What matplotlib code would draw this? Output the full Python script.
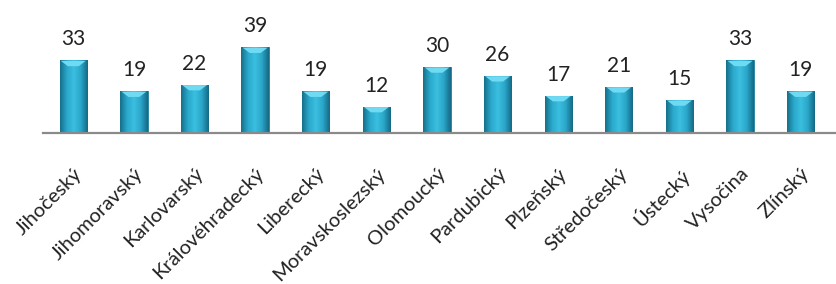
import matplotlib.pyplot as plt
import matplotlib.transforms as mtransforms
from matplotlib.colors import LinearSegmentedColormap
import numpy as np

regions = ["Jihočeský", "Jihomoravský", "Karlovarský", "Královéhradecký", "Liberecký",
           "Moravskoslezský", "Olomoucký", "Pardubický", "Plzeňský", "Středočeský",
           "Ústecký", "Vysočina", "Zlínský"]
counts = [33, 19, 22, 39, 19, 12, 30, 26, 17, 21, 15, 33, 19]

plt.rcParams['font.family'] = ['Lato', 'DejaVu Sans']

fig = plt.figure(figsize=(8.37, 2.84), dpi=100)
ax = fig.add_axes([43 / 837, 151 / 284, 794 / 837, 133 / 284])

x = np.arange(len(regions))
bars = ax.bar(x, counts, width=0.45, color='#2aa6c9', edgecolor='#1d7f9b', linewidth=0.6, zorder=2)

# horizontal shading inside bars (darker edges, bright middle)
shade = LinearSegmentedColormap.from_list('shade', ['#17708b', '#2aa9cc', '#3bbfe0', '#2aa6c9', '#146a85'])
grad = np.linspace(0, 1, 64).reshape(1, -1)
for b in bars:
    x0, w, h = b.get_x(), b.get_width(), b.get_height()
    im = ax.imshow(grad, cmap=shade, aspect='auto', extent=(x0, x0 + w, 0, h), zorder=2.5)
    im.set_clip_path(b)
    # light cap at the top
    ax.add_patch(plt.Polygon([(x0 + 0.02, h - 0.2), (x0 + w - 0.02, h - 0.2),
                              (x0 + w * 0.7, h - 2.6), (x0 + w * 0.3, h - 2.6)],
                             closed=True, color='#6fdaf2', lw=0, zorder=3))

for xi, v in zip(x, counts):
    ax.text(xi, v + 5, str(v), ha='center', va='bottom', fontsize=15, color='#222222')

ax.set_xlim(-0.5, 12.6)
ax.set_ylim(0, 60.5)
ax.set_yticks([])
ax.set_xticks(x)
ax.set_xticklabels(regions, rotation=45, ha='right', va='top', rotation_mode='anchor', fontsize=14.5,
                   color='#222222')
shift = mtransforms.ScaledTranslation(4 / 100, 0, fig.dpi_scale_trans)
for lab in ax.get_xticklabels():
    lab.set_transform(lab.get_transform() + shift)
ax.tick_params(axis='x', length=0, pad=23)
for s in ['top', 'left', 'right']:
    ax.spines[s].set_visible(False)
ax.spines['bottom'].set_color('#8a8a8a')
ax.spines['bottom'].set_linewidth(1.6)
ax.spines['bottom'].set_zorder(4)

fig.savefig('out.png', dpi=100)
